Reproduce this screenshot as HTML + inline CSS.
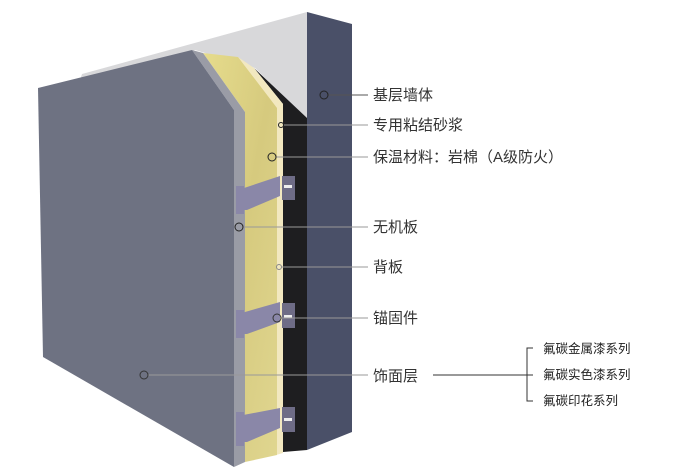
<!DOCTYPE html>
<html><head><meta charset="utf-8"><style>
html,body{margin:0;padding:0;background:#fff;}
svg{display:block}
text{font-family:"Liberation Sans","Noto Sans CJK SC",sans-serif;fill:#333;}
</style></head><body>
<svg width="680" height="474" viewBox="0 0 680 474" xmlns="http://www.w3.org/2000/svg">
<defs>
<linearGradient id="wool" x1="0" y1="0" x2="1" y2="1">
<stop offset="0" stop-color="#e6dc8c"/><stop offset="0.5" stop-color="#d6ca7e"/><stop offset="1" stop-color="#e0d690"/>
</linearGradient>
</defs>
<polygon points="82,74 307,12 307,120 255,68 195,50 80,80" fill="#d8d8da"/>
<polygon points="307,12 352,24 352,432 307,450" fill="#4a5068"/>
<polygon points="254,68 307,118 307,450 283,452 283,104" fill="#1e1e20"/>
<polygon points="238,57 254,68 283,104 283,453 276,455 276,108" fill="#f2e8c0"/>
<polygon points="203,53 238,57 277,108 277,455 245,462 245,112" fill="url(#wool)"/>
<polygon points="192,50 203,53 245,112 245,462 234,467 234,110" fill="#9a9ca6"/>
<polygon points="38,88 192,50 234,110 234,467 43,357" fill="#6e7282"/>
<g fill="#8a87a8">
<polygon points="238,190 280,176 280,196 247,210 238,210"/>
<polygon points="238,314 280,302 280,322 247,334 238,334"/>
<polygon points="238,416 280,408 280,428 247,442 238,442"/>
<rect x="236" y="186" width="8" height="28"/>
<rect x="236" y="310" width="8" height="28"/>
<rect x="236" y="412" width="8" height="34"/>
</g>
<g fill="#6e6c86">
<rect x="282" y="176" width="13" height="24"/>
<rect x="282" y="303" width="13" height="25"/>
<rect x="282" y="407" width="13" height="25"/>
</g>
<g fill="#eee">
<rect x="284" y="185" width="8" height="3"/>
<rect x="284" y="315" width="8" height="3"/>
<rect x="284" y="418" width="8" height="3"/>
</g>
<g stroke="#555" stroke-width="1" fill="none">
<line x1="328" y1="95" x2="368" y2="95"/>
<line x1="284" y1="125" x2="368" y2="125" stroke="#999"/>
<line x1="276" y1="157" x2="368" y2="157" stroke="#999"/>
<line x1="243" y1="227" x2="368" y2="227" stroke="#999"/>
<line x1="282" y1="267" x2="368" y2="267" stroke="#999"/>
<line x1="281" y1="318" x2="368" y2="318" stroke="#999"/>
<line x1="148" y1="375" x2="368" y2="375" stroke="#999"/>
<circle cx="324" cy="95" r="4" stroke="#222"/>
<circle cx="281" cy="125" r="2.5" stroke="#222"/>
<circle cx="272" cy="157" r="4" stroke="#222"/>
<circle cx="239" cy="227" r="4" stroke="#222"/>
<circle cx="279" cy="267" r="2.5" stroke="#888"/>
<circle cx="277" cy="318" r="4" stroke="#333"/>
<circle cx="144" cy="375" r="4" stroke="#333"/>
<line x1="433" y1="375" x2="527" y2="375" stroke="#333"/>
<polyline points="533,348 527,348 527,401 533,401" stroke="#333"/>
<line x1="527" y1="375" x2="533" y2="375" stroke="#333"/>
</g>
<g font-size="15">
<text x="373" y="100">基层墙体</text>
<text x="373" y="130">专用粘结砂浆</text>
<text x="373" y="162">保温材料：岩棉（A级防火）</text>
<text x="373" y="232">无机板</text>
<text x="373" y="272">背板</text>
<text x="373" y="323">锚固件</text>
<text x="373" y="381">饰面层</text>
</g>
<g font-size="12.5">
<text x="543" y="353" style="fill:#222">氟碳金属漆系列</text>
<text x="543" y="379" style="fill:#222">氟碳实色漆系列</text>
<text x="543" y="405" style="fill:#222">氟碳印花系列</text>
</g>
</svg>
</body></html>
